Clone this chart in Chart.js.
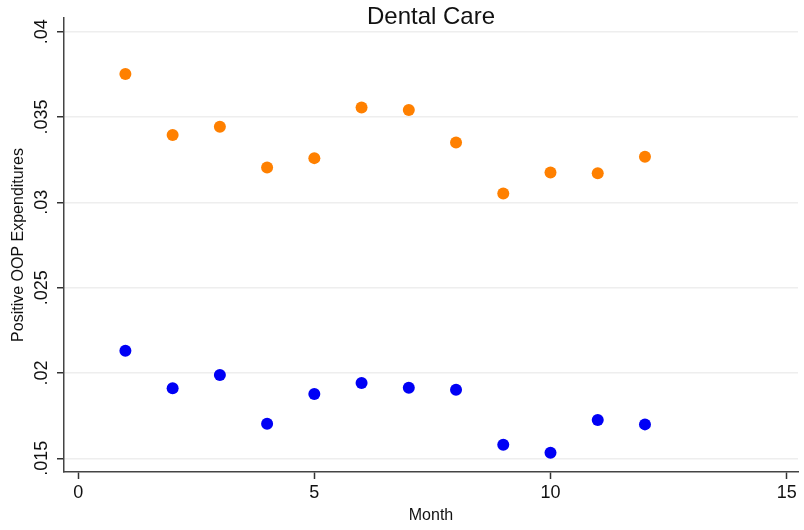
<!DOCTYPE html>
<html>
<head>
<meta charset="utf-8">
<script src="https://cdn.jsdelivr.net/npm/chart.js@4/dist/chart.umd.min.js"></script>
<style>
  html, body { margin: 0; padding: 0; background: #ffffff; }
  #wrap { width: 804px; height: 530px; position: relative; }
</style>
</head>
<body>
<div id="wrap"><canvas id="c" width="804" height="530"></canvas></div>
<script>
// Months on the horizontal axis
const months = [1, 2, 3, 4, 5, 6, 7, 8, 9, 10, 11, 12];

// Share with positive out-of-pocket dental spending, by month
const upperGroup = [0.03752, 0.03394, 0.03443, 0.03204, 0.03259, 0.03556,
                    0.03541, 0.03351, 0.03052, 0.03175, 0.03171, 0.03267];
const lowerGroup = [0.02131, 0.01911, 0.01989, 0.01703, 0.01877, 0.01942,
                    0.01914, 0.01902, 0.01580, 0.01533, 0.01725, 0.01699];

// Axis ticks
const xTickValues = [0, 5, 10, 15];
const yTickValues = [0.015, 0.02, 0.025, 0.03, 0.035, 0.04];
const yTickLabels = ['.015', '.02', '.025', '.03', '.035', '.04'];

const FONT = '"Liberation Sans", Arial, Helvetica, sans-serif';

const toPoints = vals => months.map((m, i) => ({ x: m, y: vals[i] }));

// Draws title, rotated y tick labels and axis titles
const textPlugin = {
  id: 'stataText',
  afterDraw(chart) {
    const ctx = chart.ctx;
    const area = chart.chartArea;
    const ys = chart.scales.y;
    ctx.save();
    ctx.fillStyle = '#111111';

    // title
    ctx.font = '24px ' + FONT;
    ctx.textAlign = 'center';
    ctx.textBaseline = 'alphabetic';
    ctx.fillText('Dental Care', (area.left + area.right) / 2, 24);

    // y tick labels, rotated
    ctx.font = '18px ' + FONT;
    yTickValues.forEach((v, i) => {
      const py = ys.getPixelForValue(v);
      ctx.save();
      ctx.translate(42, py);
      ctx.rotate(-Math.PI / 2);
      ctx.textAlign = 'center';
      ctx.textBaseline = 'middle';
      ctx.fillText(yTickLabels[i], 0, 0);
      ctx.restore();
    });

    // y axis title
    ctx.font = '16px ' + FONT;
    ctx.save();
    ctx.translate(19, (area.top + area.bottom) / 2);
    ctx.rotate(-Math.PI / 2);
    ctx.textAlign = 'center';
    ctx.textBaseline = 'middle';
    ctx.fillText('Positive OOP Expenditures', 0, 0);
    ctx.restore();

    // x axis title
    ctx.textAlign = 'center';
    ctx.textBaseline = 'middle';
    ctx.fillText('Month', (area.left + area.right) / 2, 516);
    ctx.restore();
  }
};

new Chart(document.getElementById('c'), {
  type: 'scatter',
  data: {
    datasets: [
      {
        label: 'Upper group',
        data: toPoints(upperGroup),
        backgroundColor: '#FF8000',
        borderColor: '#FF8000',
        pointRadius: 6,
        pointHoverRadius: 6,
        borderWidth: 0
      },
      {
        label: 'Lower group',
        data: toPoints(lowerGroup),
        backgroundColor: '#0000F5',
        borderColor: '#0000F5',
        pointRadius: 6,
        pointHoverRadius: 6,
        borderWidth: 0
      }
    ]
  },
  options: {
    responsive: false,
    animation: false,
    events: [],
    layout: { padding: { left: 0, right: 6, top: 18, bottom: 0 } },
    plugins: {
      legend: { display: false },
      title: { display: false },
      tooltip: { enabled: false }
    },
    scales: {
      x: {
        type: 'linear',
        min: -0.30,
        max: 15.24,
        afterBuildTicks(scale) {
          scale.ticks = xTickValues.map(v => ({ value: v }));
        },
        afterFit(scale) { scale.height = 58; },
        grid: {
          display: true,
          drawOnChartArea: false,
          drawTicks: true,
          tickLength: 7,
          tickColor: '#333333',
          tickWidth: 1.5
        },
        border: { display: true, color: '#444444', width: 1.5 },
        ticks: {
          color: '#111111',
          font: { family: FONT, size: 18 },
          padding: 3,
          maxRotation: 0,
          minRotation: 0,
          callback: v => String(v)
        }
      },
      y: {
        type: 'linear',
        min: 0.0142,
        max: 0.0408,
        afterBuildTicks(scale) {
          scale.ticks = yTickValues.map(v => ({ value: v }));
        },
        afterFit(scale) { scale.width = 64; },
        grid: {
          display: true,
          drawOnChartArea: true,
          color: '#eeeeee',
          lineWidth: 1.5,
          drawTicks: true,
          tickLength: 7,
          tickColor: '#333333',
          tickWidth: 1.5
        },
        border: { display: true, color: '#444444', width: 1.5 },
        ticks: { display: false }
      }
    }
  },
  plugins: [textPlugin]
});
</script>
</body>
</html>
